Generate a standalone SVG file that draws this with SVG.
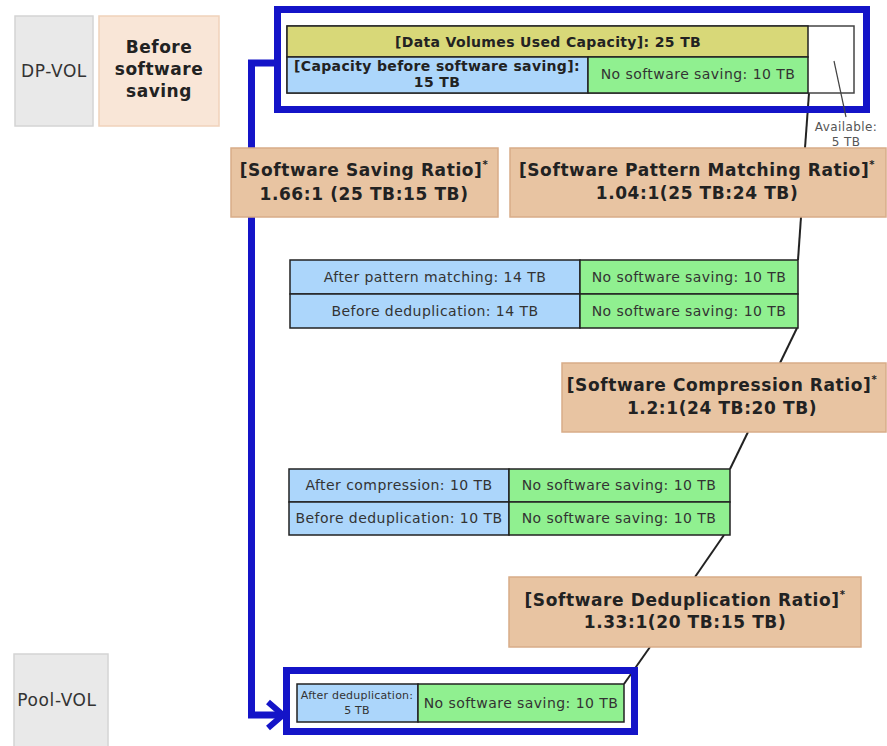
<svg xmlns="http://www.w3.org/2000/svg" width="887" height="746" viewBox="0 0 887 746">
  <style>
    text { font-family: "DejaVu Sans", Verdana, "Liberation Sans", sans-serif; fill: #222; }
    .side { font-size: 17px; letter-spacing: 0.6px; fill: #333; text-anchor: middle; }
    .sideb { font-size: 17px; letter-spacing: 0.5px; font-weight: bold; text-anchor: middle; }
    .ratio { font-size: 17px; letter-spacing: 0.6px; font-weight: bold; text-anchor: middle; }
    .cell { font-size: 14px; letter-spacing: 0.45px; text-anchor: middle; fill: #333; }
    .cellb { font-size: 14px; letter-spacing: 0.35px; font-weight: bold; text-anchor: middle; }
    .tiny { font-size: 12px; letter-spacing: 0.4px; text-anchor: middle; fill: #555; }
    .small { font-size: 11px; letter-spacing: 0.2px; text-anchor: middle; fill: #333; }
    .gray { fill: #e9e9e9; stroke: #d4d4d4; stroke-width: 1.5; }
    .peachl { fill: #f9e6d7; stroke: #f0d2bb; stroke-width: 1.5; }
    .peach { fill: #e8c4a2; stroke: #d8ac88; stroke-width: 1.5; }
    .blue { fill: #acd6fb; stroke: #222; stroke-width: 1.5; }
    .green { fill: #90f090; stroke: #222; stroke-width: 1.5; }
    .olive { fill: #d8d878; stroke: #222; stroke-width: 1.5; }
    .frame { fill: none; stroke: #1414c8; stroke-width: 7; }
    .link { fill: none; stroke: #222; stroke-width: 2; }
  </style>

  <!-- connectors (drawn first so the ratio boxes sit on top) -->
  <g id="connectors">
    <polyline points="274,63 251.5,63 251.5,715 283,715" fill="none" stroke="#1414c8" stroke-width="7"/>
    <polyline points="268,702 283,715 268,728" fill="none" stroke="#1414c8" stroke-width="6"/>
    <line class="link" x1="809" y1="93" x2="805" y2="148"/>
    <line class="link" x1="801" y1="217" x2="798" y2="260"/>
    <line class="link" x1="797" y1="328" x2="780" y2="363"/>
    <line class="link" x1="748" y1="432" x2="730" y2="469"/>
    <line class="link" x1="724" y1="535" x2="695" y2="577"/>
    <line class="link" x1="650" y1="647" x2="624" y2="684"/>
  </g>

  <!-- row labels -->
  <g id="dp-vol">
    <rect class="gray" x="15" y="16" width="78" height="110"/>
    <text class="side" x="54" y="77">DP-VOL</text>
  </g>
  <g id="before-saving">
    <rect class="peachl" x="99" y="16" width="120" height="110"/>
    <text class="sideb" x="159" y="53">Before</text>
    <text class="sideb" x="159" y="75">software</text>
    <text class="sideb" x="159" y="97">saving</text>
  </g>
  <g id="pool-vol">
    <rect class="gray" x="14" y="654" width="94" height="96"/>
    <text class="side" x="57" y="706">Pool-VOL</text>
  </g>

  <!-- DP-VOL capacity -->
  <g id="dp-capacity">
    <rect class="frame" x="277.5" y="9.5" width="589" height="100"/>
    <rect x="287" y="26" width="567" height="67" fill="#fff" stroke="#444" stroke-width="1.5"/>
    <rect class="olive" x="287" y="26" width="521" height="31"/>
    <rect class="blue" x="287" y="57" width="301" height="36"/>
    <rect class="green" x="588" y="57" width="220" height="36"/>
    <text class="cellb" x="548" y="47">[Data Volumes Used Capacity]: 25 TB</text>
    <text class="cellb" x="437" y="71">[Capacity before software saving]:</text>
    <text class="cellb" x="437" y="87">15 TB</text>
    <text class="cell" x="698" y="79">No software saving: 10 TB</text>
  </g>
  <!-- leader from the free space to its label -->
  <g id="available">
    <line x1="834" y1="61" x2="846" y2="117" stroke="#444" stroke-width="1.2"/>
    <text class="tiny" x="846" y="131">Available:</text>
    <text class="tiny" x="846" y="146">5 TB</text>
  </g>

  <!-- ratio boxes -->
  <g id="saving-ratio">
    <rect class="peach" x="231" y="148" width="267" height="69"/>
    <text class="ratio" x="364" y="176">[Software Saving Ratio]<tspan font-size="10" dy="-8">*</tspan></text>
    <text class="ratio" x="364" y="200">1.66:1 (25 TB:15 TB)</text>
  </g>
  <g id="pattern-ratio">
    <rect class="peach" x="510" y="148" width="376" height="69"/>
    <text class="ratio" x="697" y="176">[Software Pattern Matching Ratio]<tspan font-size="10" dy="-8">*</tspan></text>
    <text class="ratio" x="697" y="199">1.04:1(25 TB:24 TB)</text>
  </g>

  <g id="pattern-table">
    <rect class="blue" x="290" y="260" width="290" height="34"/>
    <rect class="green" x="580" y="260" width="218" height="34"/>
    <rect class="blue" x="290" y="294" width="290" height="34"/>
    <rect class="green" x="580" y="294" width="218" height="34"/>
    <text class="cell" x="435" y="282">After pattern matching: 14 TB</text>
    <text class="cell" x="689" y="282">No software saving: 10 TB</text>
    <text class="cell" x="435" y="316">Before deduplication: 14 TB</text>
    <text class="cell" x="689" y="316">No software saving: 10 TB</text>
  </g>

  <g id="compression-ratio">
    <rect class="peach" x="562" y="363" width="324" height="69"/>
    <text class="ratio" x="722" y="391">[Software Compression Ratio]<tspan font-size="10" dy="-8">*</tspan></text>
    <text class="ratio" x="722" y="414">1.2:1(24 TB:20 TB)</text>
  </g>

  <g id="compression-table">
    <rect class="blue" x="289" y="469" width="220" height="33"/>
    <rect class="green" x="509" y="469" width="221" height="33"/>
    <rect class="blue" x="289" y="502" width="220" height="33"/>
    <rect class="green" x="509" y="502" width="221" height="33"/>
    <text class="cell" x="399" y="490">After compression: 10 TB</text>
    <text class="cell" x="619" y="490">No software saving: 10 TB</text>
    <text class="cell" x="399" y="523">Before deduplication: 10 TB</text>
    <text class="cell" x="619" y="523">No software saving: 10 TB</text>
  </g>

  <g id="dedup-ratio">
    <rect class="peach" x="509" y="577" width="352" height="70"/>
    <text class="ratio" x="685" y="606">[Software Deduplication Ratio]<tspan font-size="10" dy="-8">*</tspan></text>
    <text class="ratio" x="685" y="628">1.33:1(20 TB:15 TB)</text>
  </g>

  <!-- Pool-VOL capacity -->
  <g id="pool-capacity">
    <rect class="frame" x="286.5" y="670.5" width="348" height="61"/>
    <rect class="blue" x="297" y="684" width="121" height="38"/>
    <rect class="green" x="418" y="684" width="206" height="38"/>
    <text class="small" x="357" y="699">After deduplication:</text>
    <text class="small" x="357" y="714">5 TB</text>
    <text class="cell" x="521" y="708">No software saving: 10 TB</text>
  </g>
</svg>
